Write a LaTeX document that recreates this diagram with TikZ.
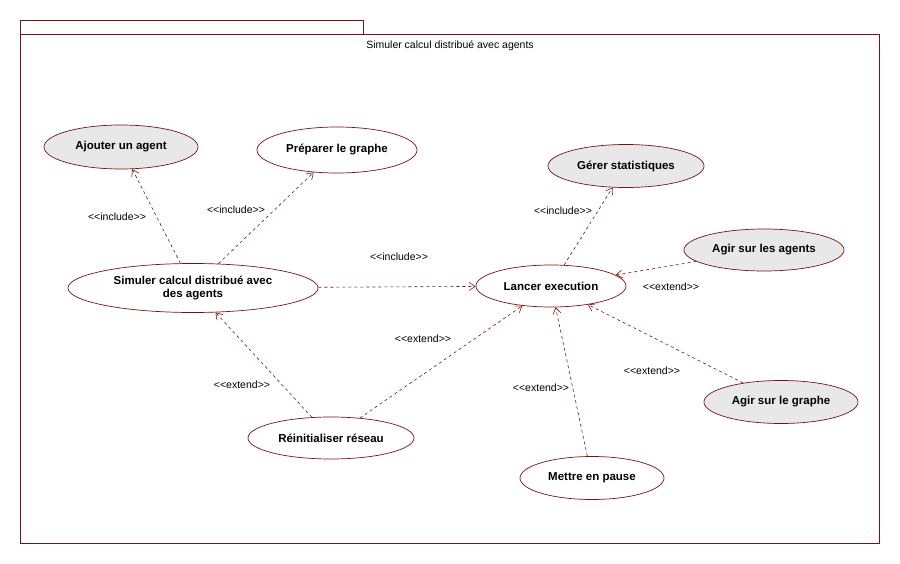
\documentclass[tikz,border=0pt]{standalone}
\usepackage{fontspec}
\setmainfont{Liberation Sans}
\usetikzlibrary{shapes.geometric,arrows.meta}
\definecolor{bord}{RGB}{120,20,20}
\definecolor{gris}{RGB}{232,232,232}
\newcommand{\stereo}[1]{<{}<#1>{}>}
\begin{document}
\begin{tikzpicture}[x=1pt,y=-1pt,
    uc/.style={ellipse,draw=bord,line width=.7pt,fill=white,inner sep=0pt,align=center,font=\fontsize{11.5}{13}\selectfont\bfseries},
    ucg/.style={uc,fill=gris},
    dep/.style={draw=bord,line width=.6pt,dashed,-{Straight Barb[length=6pt,width=8pt]}},
    lab/.style={font=\fontsize{10.5}{12}\selectfont}]
\useasboundingbox (0,0) rectangle (900,564);
% cadre du paquetage
\draw[bord,line width=.8pt] (20,20) rectangle (363,34);
\draw[bord,line width=.8pt] (20,34) rectangle (879,543);
\node[lab] (titre) at (450,46) {Simuler calcul distribué avec agents};

% cas d'utilisation
\node[ucg,minimum width=154pt,minimum height=44pt] (ajout) at (121,147) {Ajouter un agent};
\node[uc,minimum width=160pt,minimum height=46pt] (prep) at (337,150) {Préparer le graphe};
\node[uc,minimum width=250pt,minimum height=49pt] (simu) at (193,288) {Simuler calcul distribué avec\\des agents};
\node[ucg,minimum width=156pt,minimum height=43pt] (stat) at (626,166) {Gérer statistiques};
\node[ucg,minimum width=160pt,minimum height=42pt] (agents) at (764,250) {Agir sur les agents};
\node[uc,minimum width=150pt,minimum height=42pt] (lancer) at (551,286) {Lancer execution};
\node[uc,minimum width=166pt,minimum height=42pt] (reinit) at (331,438) {Réinitialiser réseau};
\node[uc,minimum width=144pt,minimum height=43pt] (pause) at (592,478) {Mettre en pause};
\node[ucg,minimum width=154pt,minimum height=43pt] (graphe) at (781,402) {Agir sur le graphe};

% relations
\draw[dep] (simu) -- (ajout);
\draw[dep] (simu) -- (prep);
\draw[dep] (simu) -- (lancer);
\draw[dep] (lancer) -- (stat);
\draw[dep] (agents) -- (lancer);
\draw[dep] (graphe) -- (lancer);
\draw[dep] (pause) -- (lancer);
\draw[dep] (reinit) -- (lancer);
\draw[dep] (reinit) -- (simu);

\node[lab] at (117,217) {\stereo{include}};
\node[lab] at (236,210) {\stereo{include}};
\node[lab] at (399,257) {\stereo{include}};
\node[lab] at (563,211) {\stereo{include}};
\node[lab] at (671,287) {\stereo{extend}};
\node[lab] at (652,371) {\stereo{extend}};
\node[lab] at (541,388) {\stereo{extend}};
\node[lab] at (423,339) {\stereo{extend}};
\node[lab] at (242,385) {\stereo{extend}};
\end{tikzpicture}
\end{document}
